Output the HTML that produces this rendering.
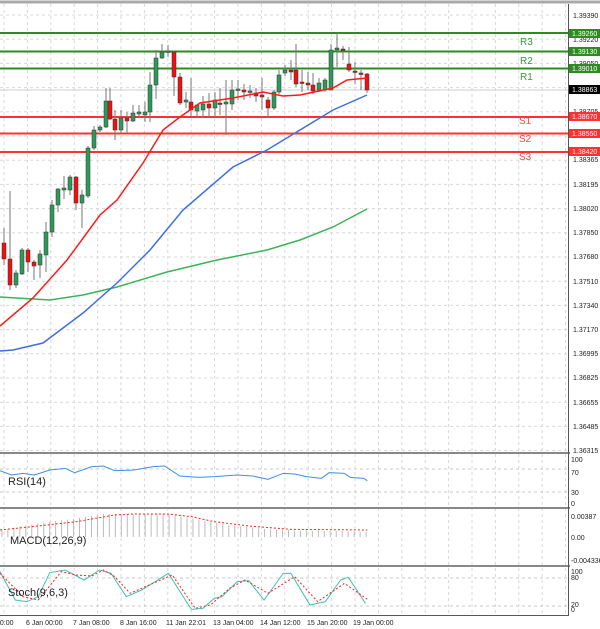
<!DOCTYPE html>
<html><head><meta charset="utf-8"><style>
html,body{margin:0;padding:0;background:#fff;}
svg{display:block;font-family:"Liberation Sans",sans-serif;}
.ax{font-size:7px;fill:#222;}
.tl{font-size:7px;fill:#222;}
</style></head><body>
<svg id="s" width="600" height="629" viewBox="0 0 600 629">
<rect width="600" height="629" fill="#fff"/>
<line x1="0" y1="2" x2="600" y2="2" stroke="#aaa" stroke-width="3"/>
<g id="grid"></g>
<g id="ind"></g>
<!-- panel separators -->
<rect x="0" y="452" width="570" height="2" fill="#888"/>
<rect x="0" y="507" width="570" height="2" fill="#888"/>
<rect x="0" y="565" width="570" height="2" fill="#888"/>
<line x1="0" y1="615.5" x2="569" y2="615.5" stroke="#555"/>
<line x1="568.5" y1="4" x2="568.5" y2="616" stroke="#555"/>
<!-- SR lines -->
<g stroke-width="2">
<line x1="0" y1="33" x2="568" y2="33" stroke="#2e8b22"/>
<line x1="0" y1="51.5" x2="568" y2="51.5" stroke="#2e8b22"/>
<line x1="0" y1="68.5" x2="568" y2="68.5" stroke="#2e8b22"/>
<line x1="0" y1="117" x2="568" y2="117" stroke="#ff3030"/>
<line x1="0" y1="133.5" x2="568" y2="133.5" stroke="#ff3030"/>
<line x1="0" y1="152" x2="568" y2="152" stroke="#ff3030"/>
</g>
<line x1="0" y1="90" x2="568" y2="90" stroke="#ccc"/>
<g font-size="10" >
<text x="520" y="45" fill="#3a9a3a">R3</text>
<text x="520" y="64" fill="#3a9a3a">R2</text>
<text x="520" y="80" fill="#3a9a3a">R1</text>
<text x="519" y="124" fill="#ff4040">S1</text>
<text x="519" y="142" fill="#ff4040">S2</text>
<text x="519" y="160" fill="#ff4040">S3</text>
</g>
<g id="main"></g>
<!-- right axis labels -->
<g class="ax">
<text x="573" y="18">1.39390</text>
<text x="573" y="42">1.39220</text>
<text x="573" y="66">1.39050</text>
<text x="573" y="114">1.38705</text>
<text x="573" y="162">1.38365</text>
<text x="573" y="187">1.38195</text>
<text x="573" y="211">1.38020</text>
<text x="573" y="235">1.37850</text>
<text x="573" y="259">1.37680</text>
<text x="573" y="284">1.37510</text>
<text x="573" y="308">1.37340</text>
<text x="573" y="332">1.37170</text>
<text x="573" y="356">1.36995</text>
<text x="573" y="380">1.36825</text>
<text x="573" y="405">1.36655</text>
<text x="573" y="429">1.36485</text>
<text x="573" y="453">1.36315</text>
</g>
<rect x="569" y="29" width="31" height="9" fill="#2e8b22"/><text x="572" y="36" font-size="7" fill="#fff">1.39260</text>
<rect x="569" y="47" width="31" height="9" fill="#2e8b22"/><text x="572" y="54" font-size="7" fill="#fff">1.39130</text>
<rect x="569" y="64" width="31" height="9" fill="#2e8b22"/><text x="572" y="71" font-size="7" fill="#fff">1.39010</text>
<rect x="569" y="85" width="31" height="9" fill="#000"/><text x="572" y="92" font-size="7" fill="#fff">1.38863</text>
<rect x="569" y="112" width="31" height="9" fill="#ff3030"/><text x="572" y="119" font-size="7" fill="#fff">1.38670</text>
<rect x="569" y="129" width="31" height="9" fill="#ff3030"/><text x="572" y="136" font-size="7" fill="#fff">1.38550</text>
<rect x="569" y="147" width="31" height="9" fill="#ff3030"/><text x="572" y="154" font-size="7" fill="#fff">1.38420</text>
<g class="ax">
<text x="571" y="462">100</text><text x="571" y="475">70</text><text x="571" y="495">30</text><text x="571" y="506">0</text>
<text x="571" y="519">0.00387</text><text x="571" y="540">0.00</text><text x="571" y="563">-0.004336</text>
<text x="571" y="574">100</text><text x="571" y="580">80</text><text x="571" y="607">20</text><text x="571" y="612">0</text>
</g>
<g font-size="11" fill="#222">
<text x="8" y="485">RSI(14)</text>
<text x="10" y="544">MACD(12,26,9)</text>
<text x="8" y="596">Stoch(9,6,3)</text>
</g>
<g class="tl">
<text x="-4" y="625">20:00</text>
<text x="26" y="625">6 Jan 00:00</text>
<text x="73" y="625">7 Jan 08:00</text>
<text x="120" y="625">8 Jan 16:00</text>
<text x="166" y="625">11 Jan 22:01</text>
<text x="213" y="625">13 Jan 04:00</text>
<text x="260" y="625">14 Jan 12:00</text>
<text x="307" y="625">15 Jan 20:00</text>
<text x="353" y="625">19 Jan 00:00</text>
</g>
</svg>
<script>
var NS="http://www.w3.org/2000/svg";
function el(p,t,a){var e=document.createElementNS(NS,t);for(var k in a)e.setAttribute(k,a[k]);p.appendChild(e);return e;}
var grid=document.getElementById('grid'),main=document.getElementById('main'),ind=document.getElementById('ind');
for(var x=4;x<568;x+=23.4)el(grid,'line',{x1:x,y1:4,x2:x,y2:615,stroke:'#d8d8d8','stroke-dasharray':'3,3'});
for(var y=15;y<452;y+=24.2)el(grid,'line',{x1:0,y1:y,x2:568,y2:y,stroke:'#d8d8d8','stroke-dasharray':'3,3'});
[469,492,578,606].forEach(function(y){el(grid,'line',{x1:0,y1:y,x2:568,y2:y,stroke:'#c8c8c8','stroke-dasharray':'3,3'});});
function pl(pts,col,w,dash,p){var d=pts.map(function(q,i){return (i?'L':'M')+q[0]+' '+q[1];}).join(' ');var a={d:d,fill:'none',stroke:col,'stroke-width':w};if(dash)a['stroke-dasharray']=dash;el(p||main,'path',a);}
// candles [x,o,c,h,l]
var C=[[4,243,259,228,265],[10,259,285,191,290],[16,285,273,270,288],[22,274,250,248,275],[28,250,262,248,272],[34,262,266,260,280],[40,265,254,250,278],[46,255,232,222,272],[52,232,205,200,237],[58,205,189,188,212],[64,190,188,176,199],[70,190,177,175,195],[76,177,203,176,210],[82,203,195,190,228],[88,196,148,146,198],[94,148,130,126,150],[100,130,127,125,132],[106,127,101,88,128],[110,101,119,88,120],[115,119,130,110,140],[121,130,118,110,133],[127,118,121,112,133],[133,121,113,105,122],[139,114,112,105,118],[145,115,112,102,122],[150,112,85,72,122],[156,85,58,50,99],[162,58,52,44,59],[168,52,51,45,57],[174,52,77,51,96],[180,77,103,73,105],[186,102,100,92,108],[191,102,110,78,116],[197,111,105,105,117],[203,110,104,96,118],[209,104,108,93,117],[215,108,100,92,118],[220,103,104,88,115],[226,104,102,80,135],[232,104,90,80,110],[238,90,89,80,100],[244,90,92,84,100],[250,92,91,85,98],[256,93,96,88,102],[262,95,97,78,110],[268,100,108,97,118],[274,108,92,90,110],[279,92,75,70,94],[285,73,70,65,76],[291,70,72,60,80],[296,70,84,44,87],[302,82,83,70,92],[308,83,85,72,90],[313,85,91,73,94],[319,90,83,78,92],[325,90,80,78,92],[331,90,50,44,90],[337,50,48,33,67],[343,49,50,46,60],[349,64,70,47,72],[355,71,72,62,84],[361,73,74,70,90],[367,74,90,73,93]];
C.forEach(function(c){var x=c[0],o=c[1],cl=c[2];var up=cl<o;
el(main,'line',{x1:x,y1:c[3],x2:x,y2:c[4],stroke:'#777','stroke-width':1});
var t=Math.min(o,cl),b=Math.max(o,cl);if(b-t<1.5)b=t+1.5;
el(main,'rect',{x:x-2,y:t,width:4,height:b-t,fill:up?'#2e9a5a':'#ee1111',stroke:'#333','stroke-width':0.5});});
pl([[0,297],[50,300],[83,295],[117,287],[167,272],[217,260],[267,250],[300,240],[333,227],[367,209]],'#3cb35a',1.5);
pl([[0,351],[13,350],[43,343],[83,313],[117,283],[150,250],[183,210],[233,167],[267,150],[300,130],[333,110],[367,95]],'#3d6fe0',1.5);
pl([[0,326],[33,298],[67,260],[100,215],[117,200],[143,163],[163,130],[180,117],[200,103],[233,98],[263,92],[283,96],[300,95],[333,88],[347,80],[367,78]],'#ff1a1a',1.5);
function cv(a){return a.map(function(q){return [q[0]/2.613,440+q[1]/3];});}
pl(cv([[0,92],[30,105],[60,100],[90,105],[130,90],[170,85],[195,98],[240,80],[270,78],[300,92],[350,90],[400,80],[430,78],[470,108],[520,112],[560,110],[620,105],[660,108],[700,118],[740,100],[770,102],[800,110],[840,115],[860,98],[900,100],[915,112],[950,115],[960,122]]),'#3d8fe8',1,null,ind);
// MACD hist
var H=[[0,270],[100,250],[200,235],[270,222],[440,222],[500,235],[600,255],[700,268],[800,272],[960,275]];
function interp(P,z){for(var i=1;i<P.length;i++)if(z<=P[i][0]){var a=P[i-1],b=P[i];return a[1]+(b[1]-a[1])*(z-a[0])/(b[0]-a[0]);}return P[P.length-1][1];}
for(var z=5;z<=960;z+=15.6){var yt=440+interp(H,z)/3;el(ind,'line',{x1:z/2.613,y1:yt,x2:z/2.613,y2:537,stroke:'#bbb','stroke-width':1});}
pl(cv([[0,270],[100,258],[200,245],[300,225],[350,222],[440,222],[500,230],[560,245],[650,258],[760,268],[960,270]]),'#ff2020',1,'2,2',ind);
pl(cv([[0,395],[40,480],[70,485],[100,470],[130,398],[170,390],[220,420],[260,390],[290,400],[330,470],[370,450],[440,400],[500,508],[530,505],[560,475],[580,470],[620,425],[650,422],[690,480],[740,400],[760,400],[810,495],[850,485],[890,420],[910,412],[955,490]]),'#40c0b0',1,null,ind);
pl(cv([[0,400],[60,470],[100,480],[160,395],[200,405],[240,408],[270,390],[300,410],[340,460],[400,430],[450,405],[510,505],[550,495],[600,445],[640,420],[700,460],[770,410],[830,485],[900,430],[960,478]]),'#ff2020',1,'2,2',ind);
</script>
</body></html>
